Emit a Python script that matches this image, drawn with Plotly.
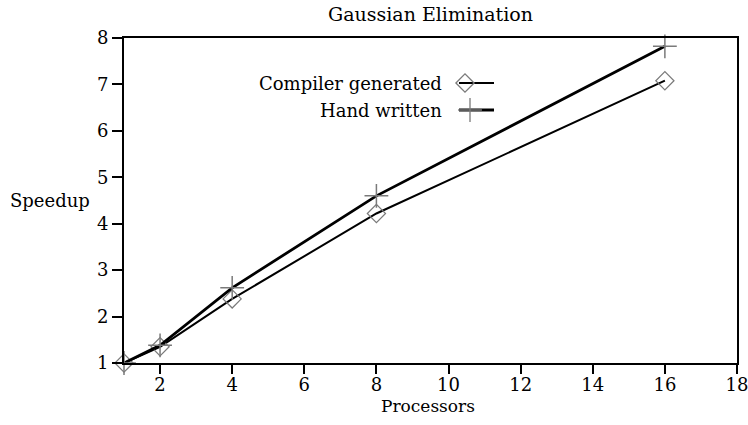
import plotly.graph_objects as go

title = "Gaussian Elimination"
x_label = "Processors"
y_label = "Speedup"

processors = [1, 2, 4, 8, 16]
compiler_speedup = [1.0, 1.35, 2.38, 4.22, 7.08]
hand_speedup = [1.0, 1.38, 2.62, 4.6, 7.82]

series_names = ["Compiler generated", "Hand written"]

x_ticks = [2, 4, 6, 8, 10, 12, 14, 16, 18]
y_ticks = [1, 2, 3, 4, 5, 6, 7, 8]

FONT = "DejaVu Serif"
FS = 17
MARK = "#7a7a7a"

L, R, T, B = 124, 737, 38, 363

fig = go.Figure()

fig.add_trace(go.Scatter(
    x=processors, y=compiler_speedup, mode="lines+markers",
    line=dict(color="black", width=2),
    marker=dict(symbol="diamond-open", size=14, color=MARK, line=dict(width=1.2, color=MARK)),
    showlegend=False, cliponaxis=False))
fig.add_trace(go.Scatter(
    x=processors, y=hand_speedup, mode="lines+markers",
    line=dict(color="black", width=2.8),
    marker=dict(symbol="cross-thin-open", size=17, color=MARK, line=dict(width=1.5, color=MARK)),
    showlegend=False, cliponaxis=False))

# Legend drawn on a hidden overlay axis in pixel-like units
leg_rows = [83, 110]
leg_syms = [("diamond-open", 14, 465, 2), ("cross-thin-open", 17, 470, 2.8)]
for name, yy, (sym, sz, mx, lw) in zip(series_names, leg_rows, leg_syms):
    fig.add_trace(go.Scatter(
        x=[459, 494], y=[yy, yy], mode="lines", xaxis="x2", yaxis="y2",
        line=dict(color="black", width=lw), showlegend=False, hoverinfo="skip"))
    fig.add_trace(go.Scatter(
        x=[mx], y=[yy], mode="markers", xaxis="x2", yaxis="y2",
        marker=dict(symbol=sym, size=sz, color=MARK, line=dict(width=1.3, color=MARK)),
        showlegend=False, hoverinfo="skip"))
    fig.add_annotation(x=444, y=yy, xref="x2", yref="y2", text=name, showarrow=False,
                       xanchor="right", yanchor="middle",
                       font=dict(family=FONT, size=18, color="black"))

def px_to_paper(px, py):
    return (px - L) / (R - L), (B - py) / (B - T)

sx, sy = px_to_paper(50, 200)
fig.add_annotation(x=sx, y=sy, xref="paper", yref="paper", text=y_label,
                   showarrow=False, xanchor="center", yanchor="middle",
                   font=dict(family=FONT, size=18, color="black"))
px_, py_ = px_to_paper(428, 406)
fig.add_annotation(x=px_, y=py_, xref="paper", yref="paper", text=x_label,
                   showarrow=False, xanchor="center", yanchor="middle",
                   font=dict(family=FONT, size=17, color="black"))

fig.update_layout(
    width=748, height=425,
    margin=dict(l=L, r=748 - R, t=T, b=425 - B, autoexpand=False),
    paper_bgcolor="white", plot_bgcolor="white",
    title=dict(text=title, x=0.5, xref="paper", xanchor="center", y=1 - 14 / 425,
               yanchor="middle", font=dict(family=FONT, size=19, color="black")),
    font=dict(family=FONT, size=FS, color="black"),
    xaxis=dict(range=[1, 18], tickvals=x_ticks, ticks="outside", ticklen=9, tickwidth=2,
               tickcolor="black", showline=True, linecolor="black", linewidth=2,
               mirror=True, showgrid=False, zeroline=False, automargin=False,
               ticklabeloverflow="allow", ticklabelstandoff=-5,
               tickfont=dict(family=FONT, size=18)),
    yaxis=dict(range=[1, 8], tickvals=y_ticks, ticks="outside", ticklen=10, tickwidth=2,
               tickcolor="black", showline=True, linecolor="black", linewidth=2,
               mirror=True, showgrid=False, zeroline=False, automargin=False,
               ticklabeloverflow="allow",
               tickfont=dict(family=FONT, size=18)),
    xaxis2=dict(range=[L, R], overlaying="x", visible=False, fixedrange=True),
    yaxis2=dict(range=[B, T], overlaying="y", visible=False, fixedrange=True),
)

fig.write_html("out.html", config={"displayModeBar": False},
               post_script="document.body.style.margin='0';document.body.style.padding='0';")
